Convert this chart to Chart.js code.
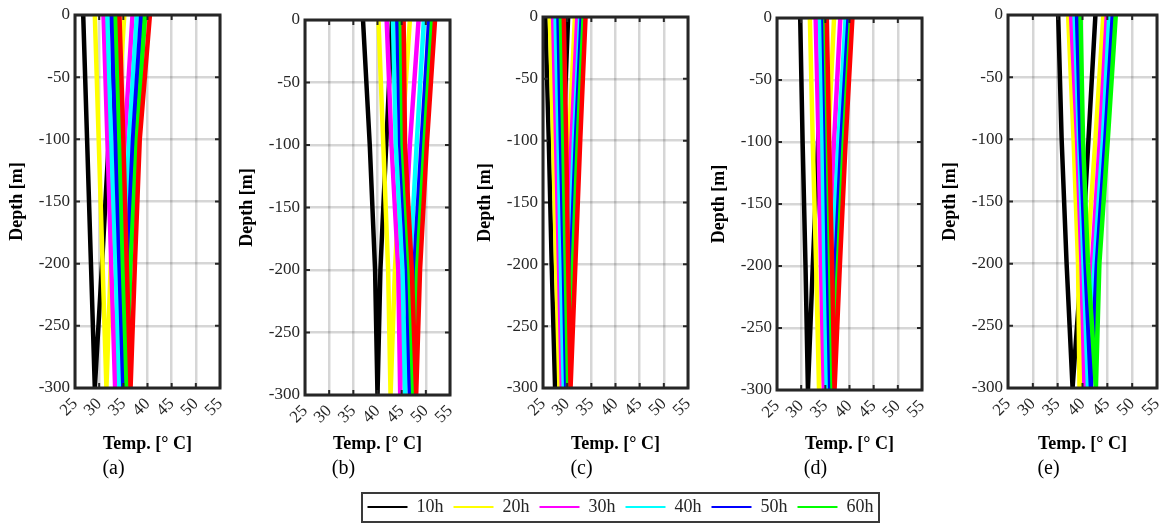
<!DOCTYPE html>
<html>
<head>
<meta charset="utf-8">
<script src="https://cdn.jsdelivr.net/npm/chart.js@4.4.0/dist/chart.umd.min.js"></script>
<style>
  body { margin: 0; background: #fff; width: 1168px; height: 524px; position: relative; overflow: hidden; }
  .panel { position: absolute; }
  #legendBox { position: absolute; left: 361px; top: 492px; width: 519px; height: 31px; border: 2px solid #3a3a3a; box-sizing: border-box; }
  #legendWrap { position: absolute; left: 320px; top: 488px; }
</style>
</head>
<body>
<div id="legendBox"></div>
<div id="legendWrap"><canvas id="legendChart" width="601" height="36"></canvas></div>

<script>
// depth of each point along the U-tube: down the first leg, back up the second
const depthPath = [0, -100, -200, -300, -200, -100, 0];
const hours = ["10h", "20h", "30h", "40h", "50h", "60h", "70h"];

// temperatures [°C] along depthPath, one row per hour (10h ... 70h)
const tempsA = [
  [26.7, 27.5, 28.3, 29.1, 30.6, 32.0, 33.5],
  [29.1, 29.9, 30.7, 31.5, 32.4, 33.6, 35.2],
  [30.9, 31.7, 32.5, 33.3, 34.1, 35.3, 36.9],
  [31.7, 32.5, 33.4, 34.2, 35.0, 36.2, 37.8],
  [32.6, 33.4, 34.2, 35.0, 35.8, 37.0, 38.7],
  [33.4, 34.2, 34.9, 35.7, 36.5, 37.8, 39.5],
  [34.2, 35.0, 35.7, 36.5, 37.4, 38.4, 40.5],
];
const tempsB = [
  [37.0, 38.4, 39.5, 40.0, 40.6, 41.8, 43.0],
  [40.2, 41.2, 42.2, 42.7, 43.6, 45.0, 46.7],
  [41.9, 42.9, 44.3, 44.7, 45.3, 46.7, 48.5],
  [43.2, 43.8, 45.2, 45.7, 46.7, 48.1, 49.6],
  [44.1, 44.7, 46.1, 46.7, 47.6, 49.1, 50.7],
  [44.8, 45.2, 46.6, 47.4, 48.2, 49.7, 51.3],
  [45.4, 45.7, 47.1, 48.0, 48.8, 50.2, 51.9],
];
const tempsC = [
  [25.5, 26.2, 26.8, 27.5, 28.3, 29.2, 30.2],
  [26.4, 27.1, 27.7, 28.4, 29.4, 30.4, 31.6],
  [27.1, 27.7, 28.3, 28.9, 29.9, 30.9, 32.1],
  [27.6, 28.2, 28.7, 29.3, 30.4, 31.4, 32.7],
  [28.2, 28.7, 29.3, 29.8, 30.8, 31.8, 33.0],
  [28.7, 29.2, 29.7, 30.2, 31.2, 32.2, 33.4],
  [29.3, 29.8, 30.2, 30.7, 31.7, 32.7, 33.8],
];
const tempsD = [
  [29.8, 30.3, 30.9, 31.4, 32.4, 33.5, 34.8],
  [31.8, 32.4, 33.1, 33.7, 34.6, 35.6, 36.8],
  [33.0, 33.6, 34.1, 34.7, 35.7, 36.8, 38.1],
  [33.9, 34.4, 34.8, 35.3, 36.4, 37.7, 39.2],
  [34.6, 35.1, 35.5, 36.0, 37.1, 38.3, 39.8],
  [35.0, 35.5, 36.0, 36.5, 37.6, 38.8, 40.3],
  [35.3, 35.8, 36.4, 36.9, 38.0, 39.2, 40.6],
];
const tempsE = [
  [35.1, 35.8, 36.8, 38.0, 39.8, 41.2, 42.6],
  [37.1, 38.2, 39.1, 39.4, 40.9, 42.6, 44.2],
  [37.7, 38.9, 39.8, 40.4, 41.9, 43.5, 44.9],
  [38.4, 39.3, 40.2, 41.1, 42.4, 44.1, 45.4],
  [38.9, 39.6, 40.6, 41.7, 42.9, 44.6, 46.1],
  [39.6, 40.1, 41.1, 42.7, 43.4, 45.1, 46.7],
  null,
];

const lineColors = ["#000000", "#ffff00", "#ff00ff", "#00ffff", "#0000ff", "#00ff00", "#ff0000"];
const serif = "'Liberation Serif', 'Times New Roman', serif";
const tickColor = "#262626";

// matlab style box with inward ticks
const framePlugin = {
  id: "frame",
  afterDatasetsDraw(chart) {
    const { ctx, chartArea } = chart;
    const { left, right, top, bottom } = chartArea;
    const x = chart.scales.x;
    const y = chart.scales.y;
    ctx.save();
    ctx.strokeStyle = tickColor;
    ctx.lineWidth = 2;
    x.ticks.forEach((t) => {
      const px = x.getPixelForValue(t.value);
      ctx.beginPath();
      ctx.moveTo(px, bottom); ctx.lineTo(px, bottom - 5);
      ctx.moveTo(px, top); ctx.lineTo(px, top + 5);
      ctx.stroke();
    });
    y.ticks.forEach((t) => {
      const py = y.getPixelForValue(t.value);
      ctx.beginPath();
      ctx.moveTo(left, py); ctx.lineTo(left + 5, py);
      ctx.moveTo(right, py); ctx.lineTo(right - 5, py);
      ctx.stroke();
    });
    ctx.lineWidth = 3;
    ctx.strokeRect(left, top, right - left, bottom - top);
    ctx.restore();
  },
};

// chart area of each panel in page pixels
const panels = [
  { temps: tempsA, tag: "(a)", L: 75, R: 220, T: 15, B: 388 },
  { temps: tempsB, tag: "(b)", L: 305, R: 450, T: 20, B: 395 },
  { temps: tempsC, tag: "(c)", L: 543, R: 688, T: 17, B: 388 },
  { temps: tempsD, tag: "(d)", L: 777, R: 922, T: 18, B: 390 },
  { temps: tempsE, tag: "(e)", L: 1008, R: 1157, T: 15, B: 388 },
];

const yAxisW = 68;
const padRight = 8;
const pageBottom = 481;

panels.forEach((p) => {
  const wrap = document.createElement("div");
  wrap.className = "panel";
  const w = p.R - p.L + yAxisW + padRight;
  const h = pageBottom - (p.T - 12);
  wrap.style.left = p.L - yAxisW + "px";
  wrap.style.top = p.T - 12 + "px";
  const canvas = document.createElement("canvas");
  canvas.width = w;
  canvas.height = h;
  wrap.appendChild(canvas);
  document.body.appendChild(wrap);

  const xScaleH = 455 - p.B;

  const datasets = [];
  p.temps.forEach((row, i) => {
    if (!row) return;
    datasets.push({
      label: hours[i],
      data: row.map((t, k) => ({ x: t, y: depthPath[k] })),
      borderColor: lineColors[i],
      backgroundColor: lineColors[i],
      borderWidth: 4.5,
      pointRadius: 0,
      showLine: true,
      order: hours.length - i,
    });
  });

  new Chart(canvas, {
    type: "scatter",
    data: { datasets: datasets },
    options: {
      responsive: false,
      animation: false,
      layout: { padding: { top: 12, right: padRight, left: 0, bottom: 0 } },
      scales: {
        x: {
          type: "linear",
          min: 25,
          max: 55,
          border: { display: false },
          grid: { color: "rgba(0,0,0,0.16)", lineWidth: 2.5, drawTicks: false },
          ticks: {
            stepSize: 5,
            autoSkip: false,
            minRotation: 45,
            maxRotation: 45,
            padding: 6,
            color: tickColor,
            font: { family: serif, size: 17 },
          },
          title: {
            display: true,
            text: "Temp. [° C]",
            color: "#000",
            padding: 0,
            font: { family: serif, size: 18, weight: "bold" },
          },
          afterFit(scale) {
            scale.height = xScaleH;
            scale.paddingLeft = 0;
            scale.paddingRight = 0;
          },
        },
        y: {
          min: -300,
          max: 0,
          border: { display: false },
          grid: { color: "rgba(0,0,0,0.16)", lineWidth: 2.5, drawTicks: false },
          ticks: {
            stepSize: 50,
            autoSkip: false,
            padding: 5,
            color: tickColor,
            font: { family: serif, size: 17 },
          },
          title: {
            display: true,
            text: "Depth [m]",
            color: "#000",
            padding: 0,
            font: { family: serif, size: 18, weight: "bold" },
          },
          afterFit(scale) {
            scale.width = yAxisW;
            scale.paddingTop = 0;
            scale.paddingBottom = 0;
          },
        },
      },
      plugins: {
        legend: { display: false },
        tooltip: { enabled: false },
        title: {
          display: true,
          text: p.tag,
          position: "bottom",
          color: "#000",
          padding: { top: 2, bottom: 0 },
          font: { family: serif, size: 20, weight: "normal" },
        },
      },
    },
    plugins: [framePlugin],
  });
});

// shared legend below the panels
new Chart(document.getElementById("legendChart"), {
  type: "scatter",
  data: {
    datasets: hours.map((h, i) => ({
      label: h,
      data: [],
      borderColor: lineColors[i],
      backgroundColor: lineColors[i],
      borderWidth: 0,
    })),
  },
  options: {
    responsive: false,
    animation: false,
    scales: { x: { display: false }, y: { display: false } },
    plugins: {
      tooltip: { enabled: false },
      legend: {
        position: "top",
        maxHeight: 36,
        labels: {
          boxWidth: 40,
          boxHeight: 2,
          padding: 10,
          color: tickColor,
          font: { family: serif, size: 18 },
          filter: (item) => item.text !== "70h",
        },
      },
    },
  },
});
</script>
</body>
</html>
